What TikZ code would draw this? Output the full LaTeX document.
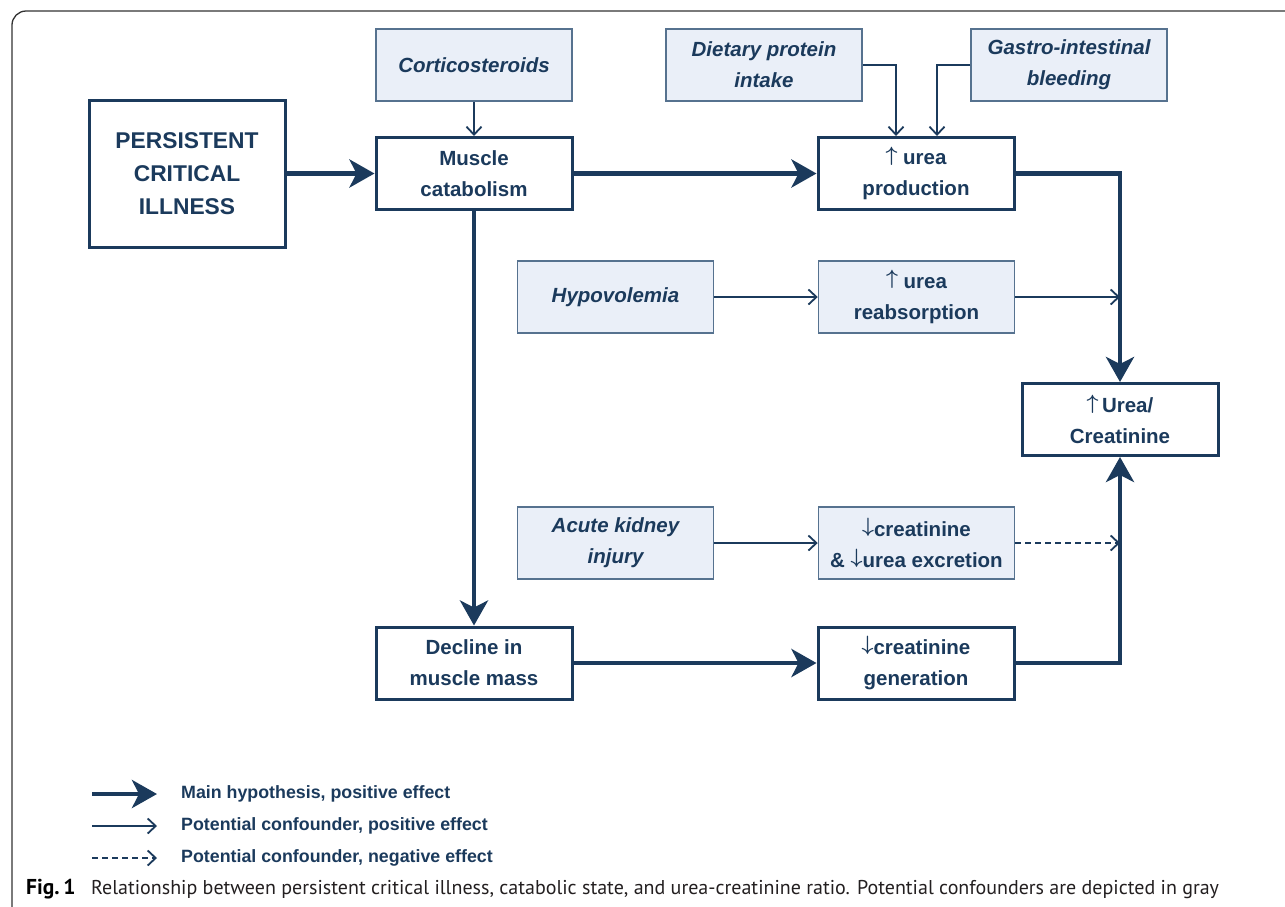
\documentclass[tikz,border=0pt]{standalone}
\usepackage{fontspec}
\setmainfont{Liberation Sans}
\newfontfamily\capfont{PT Sans}
\usetikzlibrary{arrows.meta}

\definecolor{navy}{HTML}{1B3A5C}
\definecolor{paleblue}{HTML}{EAEFF8}
\definecolor{grayedge}{HTML}{56728F}
\definecolor{captext}{HTML}{231F20}

\newcommand{\upmark}{\raisebox{0.17em}{\boldmath$\uparrow$}}
\newcommand{\downmark}{\raisebox{0.17em}{\boldmath$\downarrow$}}

\begin{document}
\begin{tikzpicture}[x=1pt,y=-1pt,
    mainbox/.style={draw=navy,line width=3pt,fill=white,minimum width=196pt,minimum height=72pt,
      inner sep=0pt,align=center,text=navy,font=\fontsize{20.5}{31}\selectfont\bfseries},
    confbox/.style={mainbox,draw=grayedge,line width=1.5pt,fill=paleblue},
    slanted/.style={font=\fontsize{20.5}{31}\selectfont\bfseries\itshape},
    mainarrow/.style={draw=navy,line width=4.5pt,-{Stealth[length=25pt,width=28pt,inset=7pt]}},
    confarrow/.style={draw=navy,line width=1.8pt,-{Straight Barb[length=8pt,width=15pt]}},
    negarrow/.style={confarrow,dash pattern=on 6pt off 4pt},
    legendtext/.style={anchor=west,inner sep=0pt,text=navy,font=\fontsize{17.8}{20}\selectfont\bfseries}]

    \useasboundingbox (0,0) rectangle (1285,906);

    % frame
    \draw[line width=1.3pt,draw=black!80,rounded corners=14pt] (12,930) -- (12,11) -- (1310,11);

    % main nodes
    \node[mainbox,minimum height=147pt,font=\fontsize{22.8}{33}\selectfont\bfseries] (pci) at (187,173.5) {PERSISTENT\\CRITICAL\\ILLNESS};
    \node[mainbox] (musc) at (474,173.5) {Muscle\\catabolism};
    \node[mainbox] (uprod) at (916,173.5) {\upmark\ urea\\production};
    \node[mainbox] (ratio) at (1120,419.5) {\upmark\,Urea/\\Creatinine};
    \node[mainbox] (decl) at (474,663) {Decline in\\muscle mass};
    \node[mainbox] (cgen) at (916,663) {\downmark creatinine\\generation};

    % confounders (gray)
    \node[confbox,slanted] (cort) at (474,65) {Corticosteroids};
    \node[confbox,slanted] (diet) at (764,65) {Dietary protein\\intake};
    \node[confbox,slanted] (gastro) at (1069,65) {Gastro-intestinal\\bleeding};
    \node[confbox,slanted] (hypo) at (615.5,297) {Hypovolemia};
    \node[confbox] (ureab) at (916.5,297) {\upmark\ urea\\reabsorption};
    \node[confbox,slanted] (aki) at (615.5,543) {Acute kidney\\injury};
    \node[confbox] (cexc) at (916.5,543) {\downmark creatinine\\\& \downmark urea excretion};

    % paths
    \draw[mainarrow] (pci.east) -- (musc.west); % illness -> catabolism
    \draw[mainarrow] (musc.east) -- (uprod.west); % catabolism -> urea production
    \draw[mainarrow] (uprod.east) -| (ratio.north); % urea production -> ratio
    \draw[mainarrow] (musc.south) -- (decl.north); % catabolism -> muscle mass
    \draw[mainarrow] (decl.east) -- (cgen.west); % muscle mass -> creatinine generation
    \draw[mainarrow] (cgen.east) -| (ratio.south); % creatinine generation -> ratio

    \draw[confarrow] (cort.south) -- (musc.north); % corticosteroids -> catabolism
    \draw[confarrow] (diet.east) -| ([xshift=-20pt]uprod.north); % protein -> urea production
    \draw[confarrow] (gastro.west) -| ([xshift=21pt]uprod.north); % bleeding -> urea production
    \draw[confarrow] (hypo.east) -- (ureab.west); % hypovolemia -> reabsorption
    \draw[confarrow] (ureab.east) -- (ureab.east -| ratio.north); % reabsorption -> ratio
    \draw[confarrow] (aki.east) -- (cexc.west); % AKI -> excretion
    \draw[negarrow] (cexc.east) -- (cexc.east -| ratio.south); % excretion -> ratio

    % legend
    \coordinate (lgA1) at (92,794);
    \coordinate (lgA2) at (157,794);
    \coordinate (lgB1) at (92,826);
    \coordinate (lgB2) at (157,826);
    \coordinate (lgC1) at (92,858);
    \coordinate (lgC2) at (157,858);
    \draw[mainarrow] (lgA1) -- (lgA2);
    \draw[confarrow] (lgB1) -- (lgB2);
    \draw[negarrow] (lgC1) -- (lgC2);
    \node[legendtext] (lgA) at (181,794) {Main hypothesis, positive effect};
    \node[legendtext] (lgB) at (181,826) {Potential confounder, positive effect};
    \node[legendtext] (lgC) at (181,858) {Potential confounder, negative effect};

    % caption
    \node[anchor=base west,inner sep=0pt,text=black,font=\capfont\fontsize{21.5}{22}\selectfont\bfseries] (fignum) at (26,894) {Fig.\,1};
    \node[anchor=base west,inner sep=0pt,text=captext,font=\capfont\fontsize{20}{22}\selectfont] (captxt) at (91,894)
      {Relationship between persistent critical illness, catabolic state, and urea-creatinine ratio. Potential confounders are depicted in gray};

\end{tikzpicture}
\end{document}
